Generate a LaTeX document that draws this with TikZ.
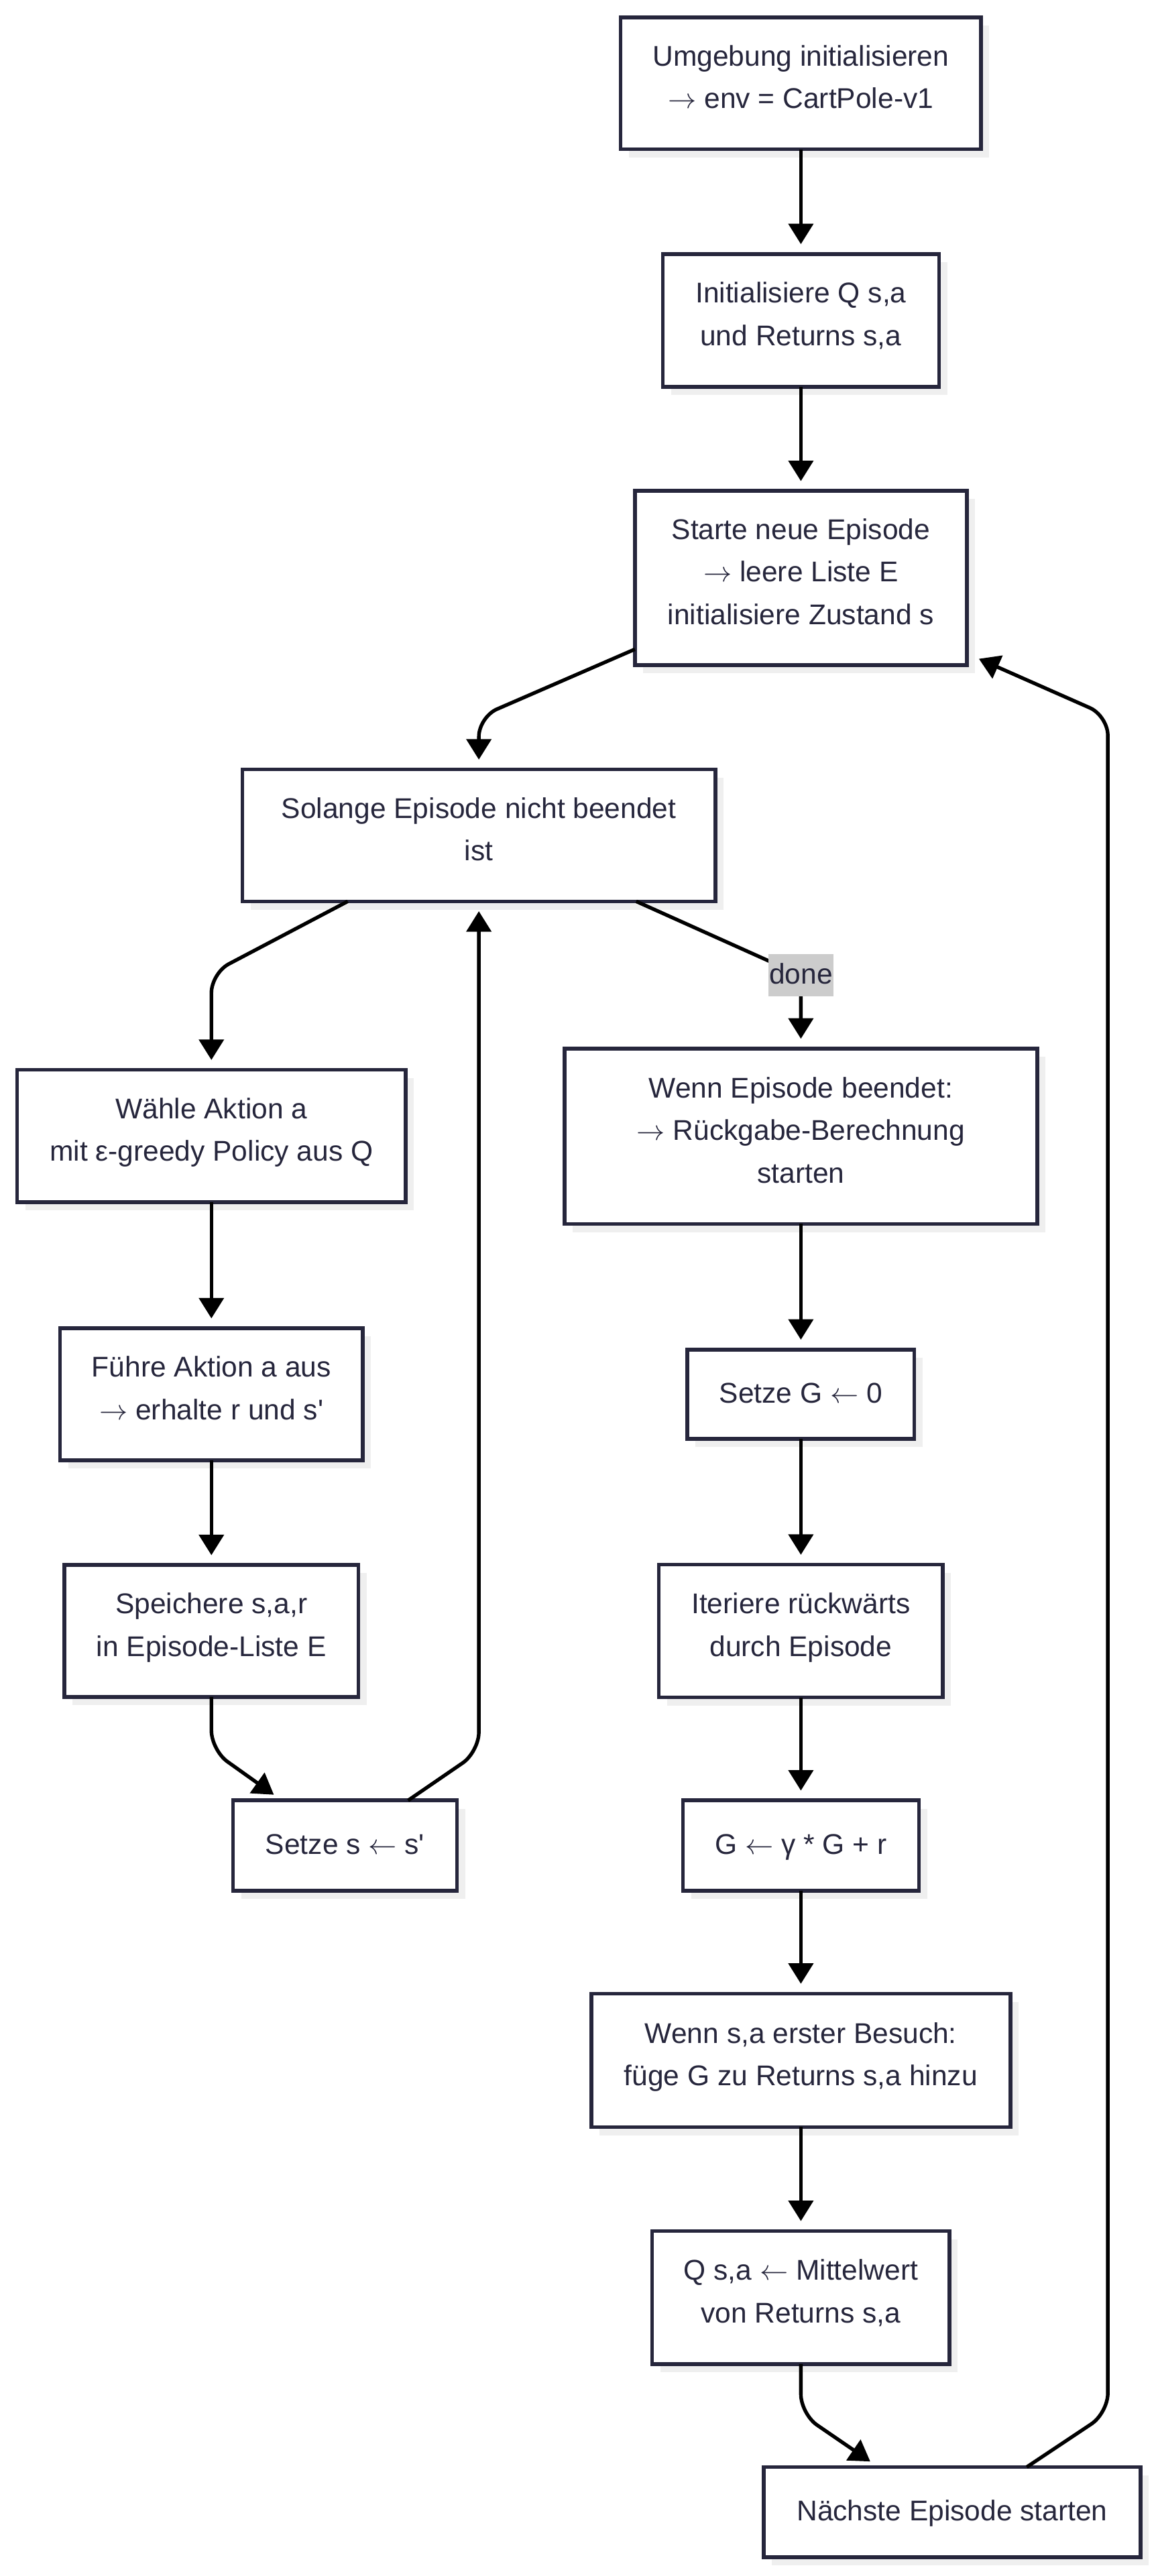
\documentclass[tikz,border=0pt]{standalone}
\usepackage{fontspec}
\setmainfont{Liberation Sans}
\usepackage{tikz}
\usetikzlibrary{arrows.meta}
\usetikzlibrary{shadows}
\definecolor{navy}{RGB}{38,38,60}
\definecolor{lbgrey}{RGB}{204,204,204}
\definecolor{shgrey}{RGB}{239,239,239}
\newcommand{\ra}{$\rightarrow$}
\newcommand{\la}{$\leftarrow$}

\begin{document}
\begin{tikzpicture}[x=1pt,y=-1pt,->,>={Triangle[width=15pt,length=12.5pt]},shorten >=6pt,line width=2.2pt,font=\fontsize{17.4}{26}\selectfont]
      \tikzstyle{box}=[draw=navy,line width=2.3pt,fill=white,text=navy,align=center,inner sep=0pt,outer sep=0pt,
        execute at begin node=\strut,execute at end node=\strut,
        drop shadow={shadow xshift=5pt,shadow yshift=-5pt,fill=shgrey,opacity=1}]
      \tikzstyle{lbl}=[fill=lbgrey,text=navy,inner xsep=0.5pt,inner ysep=0pt,execute at begin node=\strut]

      \useasboundingbox (0,0) rectangle (705,1572);

      % main column
      \node[box,minimum width=220pt,minimum height=80.5pt]	(A) at (488.7,50.8) {Umgebung initialisieren\\\ra{} env = CartPole-v1};
      \node[box,minimum width=168.5pt,minimum height=81pt]	(B) at (488.7,195.5) {Initialisiere Q s,a\\und Returns s,a};
      \node[box,minimum width=202.6pt,minimum height=106.2pt]	(C) at (488.7,352.7) {Starte neue Episode\\\ra{} leere Liste E\\initialisiere Zustand s};
      \node[box,minimum width=288.5pt,minimum height=80.5pt]	(D) at (292.2,509.8) {Solange Episode nicht beendet\\ist};

      % episode steps
      \node[box,minimum width=237pt,minimum height=80.7pt]	(E) at (129,693.2) {Wähle Aktion a\\mit ε-greedy Policy aus Q};
      \node[box,minimum width=184.7pt,minimum height=80.5pt]	(F) at (129,850.8) {Führe Aktion a aus\\\ra{} erhalte r und s\textquotesingle};
      \node[box,minimum width=179.5pt,minimum height=80.5pt]	(G) at (129,995.3) {Speichere s,a,r\\in Episode-Liste E};
      \node[box,minimum width=136.6pt,minimum height=55pt]	(H) at (210.5,1126.2) {Setze s \la{} s\textquotesingle};

      % returns
      \node[box,minimum width=288.6pt,minimum height=107pt]	(I) at (488.7,693.4) {Wenn Episode beendet:\\\ra{} Rückgabe-Berechnung\\starten};
      \node[box,minimum width=138.5pt,minimum height=54.5pt]	(J) at (488.7,850.8) {Setze G \la{} 0};
      \node[box,minimum width=173.3pt,minimum height=81pt]	(K) at (488.7,995.3) {Iteriere rückwärts\\durch Episode};
      \node[box,minimum width=144pt,minimum height=55pt]	(L) at (488.7,1126.2) {G \la{} γ * G + r};
      \node[box,minimum width=255.7pt,minimum height=81.4pt]	(M) at (488.7,1257.3) {Wenn s,a erster Besuch:\\füge G zu Returns s,a hinzu};
      \node[box,minimum width=181.5pt,minimum height=81.2pt]	(N) at (488.7,1402) {Q s,a \la{} Mittelwert\\von Returns s,a};
      \node[box,minimum width=230pt,minimum height=55pt]	(O) at (581,1533) {Nächste Episode starten};

      \path
	(A) edge	(B)
	(B) edge	(C)
	(E) edge	(F)
	(F) edge	(G)
	(I) edge	(J)
	(J) edge	(K)
	(K) edge	(L)
	(L) edge	(M)
	(M) edge	(N);

      \draw[rounded corners=12pt] ([yshift=9.6pt]C.south west) -- ([yshift=32pt]D.north) -- (D.north);
      \draw[rounded corners=12pt] ([xshift=-80pt]D.south) -- ([yshift=59pt]E.north) -- (E.north);
      \draw ([xshift=96pt]D.south) -- ([yshift=44.7pt]I.north) node[lbl] {done} -- (I.north);
      \draw[rounded corners=12pt] (G.south) -- ([yshift=-32.5pt]G.south) -- ([xshift=-38.5pt]H.north);
      \draw[rounded corners=12pt] ([xshift=38.5pt]H.north) -- ([yshift=-519pt]D.south) -- (D.south);
      \draw[rounded corners=12pt] (N.south) -- ([yshift=-30.5pt]N.south) -- ([xshift=-45pt]O.north);
      \draw[rounded corners=12pt,shorten >=8pt] ([xshift=45.5pt]O.north) -- ([xshift=95pt,yshift=33pt]O.north)
	-- ([xshift=86pt,yshift=-31pt]C.south east) -- ([yshift=7pt]C.south east);
\end{tikzpicture}
\end{document}
